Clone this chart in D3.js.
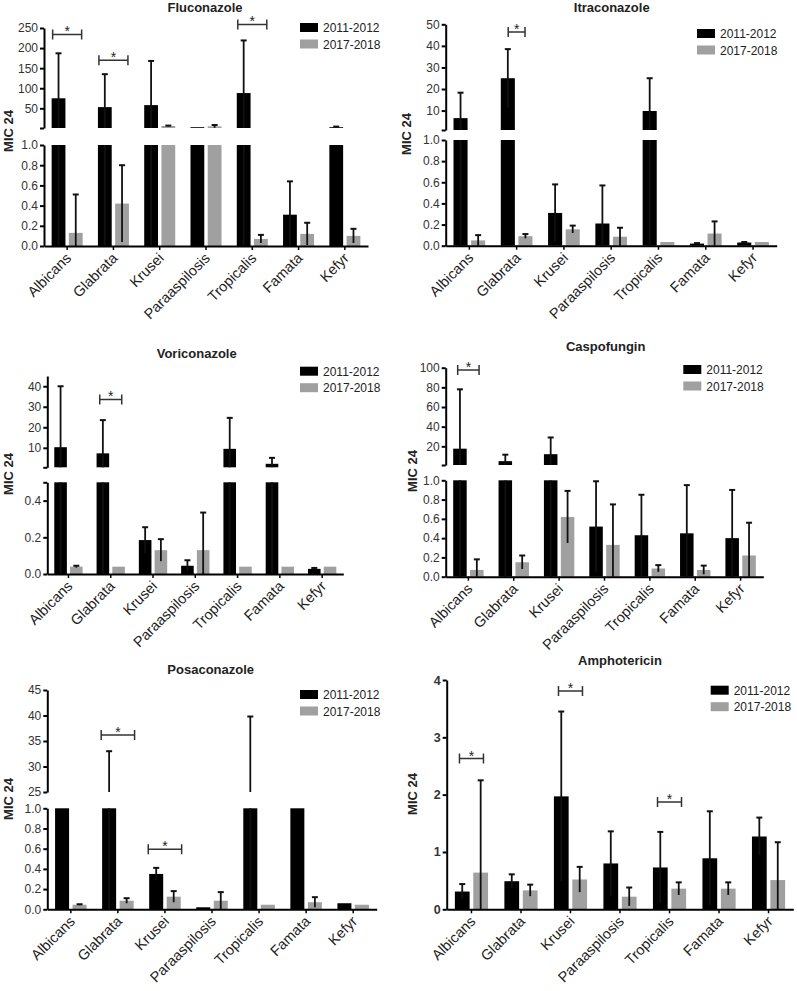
<!DOCTYPE html>
<html><head><meta charset="utf-8">
<script src="https://cdn.jsdelivr.net/npm/d3@7"></script>
<style>
body{margin:0;background:#fff;}
text{font-family:"Liberation Sans",Arial,Helvetica,sans-serif;}
</style>
</head><body>
<svg id="chart" width="797" height="991"></svg>
<script>
// ---------- DATA ----------
const categories = ["Albicans","Glabrata","Krusei","Paraaspilosis","Tropicalis","Famata","Kefyr"];
const seriesNames = ["2011-2012","2017-2018"];
const seriesColors = ["#000000","#a0a0a0"];
const yAxisTitle = "MIC 24";

// Fluconazole (mean, mean+SD)
const flucoMean2011  = [75, 53, 58, 3, 88, 0.31, 3];
const flucoUpper2011 = [187, 135, 168, 3, 219, 0.64, 4.5];
const flucoMean2017  = [0.13, 0.42, 6, 5, 0.07, 0.12, 0.10];
const flucoUpper2017 = [0.51, 0.80, 7, 8.5, 0.11, 0.23, 0.17];
const flucoSig = [["Albicans", 234], ["Glabrata", 170], ["Tropicalis", 259]];
const flucoTopTicks = [1, 50, 100, 150, 200, 250];
const flucoTopLabels = ["", "50", "100", "150", "200", "250"];
const flucoBotTicks = [0, 0.2, 0.4, 0.6, 0.8, 1.0];
const flucoBotLabels = ["0.0", "0.2", "0.4", "0.6", "0.8", "1.0"];

// Itraconazole
const itraMean2011  = [6.5, 25, 0.31, 0.21, 9.8, 0.02, 0.03];
const itraUpper2011 = [18.3, 38.5, 0.58, 0.57, 25, 0.025, 0.035];
const itraMean2017  = [0.05, 0.09, 0.155, 0.085, 0.035, 0.115, 0.035];
const itraUpper2017 = [0.10, 0.11, 0.19, 0.17, 0.035, 0.23, 0.035];
const itraSig = [["Glabrata", 46.4]];
const itraTopTicks = [1, 10, 20, 30, 40, 50];
const itraTopLabels = ["", "10", "20", "30", "40", "50"];
const itraBotTicks = [0, 0.2, 0.4, 0.6, 0.8, 1.0];
const itraBotLabels = ["0.0", "0.2", "0.4", "0.6", "0.8", "1.0"];

// Voriconazole
const voriMean2011  = [10.3, 7.3, 0.185, 0.045, 9.5, 2.2, 0.028];
const voriUpper2011 = [40, 23.5, 0.255, 0.075, 24.6, 5.1, 0.033];
const voriMean2017  = [0.04, 0.04, 0.13, 0.13, 0.04, 0.04, 0.04];
const voriUpper2017 = [0.045, 0.04, 0.19, 0.335, 0.04, 0.04, 0.04];
const voriSig = [["Glabrata", 33.6]];
const voriTopTicks = [0.5, 10, 20, 30, 40];
const voriTopLabels = ["", "10", "20", "30", "40"];
const voriBotTicks = [0, 0.2, 0.4, 0.5];
const voriBotLabels = ["0.0", "0.2", "0.4", ""];

// Caspofungin
const caspoMean2011  = [17.6, 4.9, 12, 0.52, 0.43, 0.45, 0.40];
const caspoUpper2011 = [78, 11.5, 29, 0.99, 0.85, 0.95, 0.90];
const caspoMean2017  = [0.07, 0.15, 0.62, 0.33, 0.085, 0.07, 0.22];
const caspoUpper2017 = [0.18, 0.22, 0.89, 0.75, 0.12, 0.115, 0.56];
const caspoSig = [["Albicans", 97.6]];
const caspoTopTicks = [1, 20, 40, 60, 80, 100];
const caspoTopLabels = ["", "20", "40", "60", "80", "100"];
const caspoBotTicks = [0, 0.2, 0.4, 0.6, 0.8, 1.0];
const caspoBotLabels = ["0.0", "0.2", "0.4", "0.6", "0.8", "1.0"];

// Posaconazole
const posaMean2011  = [5, 8, 0.35, 0.02, 10, 5, 0.06];
const posaUpper2011 = [5, 33, 0.41, 0.02, 39.8, 5, 0.06];
const posaMean2017  = [0.045, 0.085, 0.125, 0.085, 0.045, 0.07, 0.045];
const posaUpper2017 = [0.05, 0.11, 0.18, 0.17, 0.045, 0.12, 0.045];
const posaSig = [["Glabrata", 36.2], ["Krusei", 0.594]];
const posaTopTicks = [25, 30, 35, 40, 45];
const posaTopLabels = ["25", "30", "35", "40", "45"];
const posaBotTicks = [0, 0.2, 0.4, 0.6, 0.8, 1.0];
const posaBotLabels = ["0.0", "0.2", "0.4", "0.6", "0.8", "1.0"];

// Amphotericin
const amphoMean2011  = [0.31, 0.49, 1.97, 0.80, 0.73, 0.89, 1.27];
const amphoUpper2011 = [0.44, 0.61, 3.45, 1.36, 1.35, 1.71, 1.60];
const amphoMean2017  = [0.64, 0.33, 0.52, 0.22, 0.36, 0.36, 0.51];
const amphoUpper2017 = [2.25, 0.43, 0.74, 0.38, 0.47, 0.47, 1.17];
const amphoSig = [["Albicans", 2.63], ["Krusei", 3.81], ["Tropicalis", 1.87]];
const amphoTicks = [0, 1, 2, 3, 4];
const amphoLabels = ["0", "1", "2", "3", "4"];

// ---------- LAYOUT ----------
const panels = [
  {title:"Fluconazole", m1:flucoMean2011, u1:flucoUpper2011, m2:flucoMean2017, u2:flucoUpper2017, sig:flucoSig,
   xL:44, xR:368, botDomain:[0,1], botRange:[246,145], botTicks:flucoBotTicks, botLabels:flucoBotLabels,
   topDomain:[1,250], topRange:[128,28], topTicks:flucoTopTicks, topLabels:flucoTopLabels,
   titleXY:[205,12], legendXY:[300,23], yLabelXY:[13,131], sigHalf:14.5},
  {title:"Itraconazole", m1:itraMean2011, u1:itraUpper2011, m2:itraMean2017, u2:itraUpper2017, sig:itraSig,
   xL:445.7, xR:776.7, botDomain:[0,1], botRange:[245.7,140], botTicks:itraBotTicks, botLabels:itraBotLabels,
   topDomain:[1,50], topRange:[130,24.3], topTicks:itraTopTicks, topLabels:itraTopLabels,
   titleXY:[611.7,12], legendXY:[697,29], yLabelXY:[411,134], sigHalf:8.4},
  {title:"Voriconazole", m1:voriMean2011, u1:voriUpper2011, m2:voriMean2017, u2:voriUpper2017, sig:voriSig,
   xL:47.3, xR:343.3, botDomain:[0,0.5], botRange:[574,482.3], botTicks:voriBotTicks, botLabels:voriBotLabels,
   topDomain:[0.5,45], topRange:[467.3,376], topTicks:voriTopTicks, topLabels:voriTopLabels,
   titleXY:[196.7,358], legendXY:[300,366.7], yLabelXY:[13,474], sigHalf:11},
  {title:"Caspofungin", m1:caspoMean2011, u1:caspoUpper2011, m2:caspoMean2017, u2:caspoUpper2017, sig:caspoSig,
   xL:445.7, xR:763.3, botDomain:[0,1], botRange:[576.7,480.3], botTicks:caspoBotTicks, botLabels:caspoBotLabels,
   topDomain:[1,100], topRange:[465,367.7], topTicks:caspoTopTicks, topLabels:caspoTopLabels,
   titleXY:[605.7,351], legendXY:[683.3,365], yLabelXY:[417,471], sigHalf:10.7},
  {title:"Posaconazole", m1:posaMean2011, u1:posaUpper2011, m2:posaMean2017, u2:posaUpper2017, sig:posaSig,
   xL:47.3, xR:376.7, botDomain:[0,1], botRange:[909.3,808.3], botTicks:posaBotTicks, botLabels:posaBotLabels,
   topDomain:[25,45], topRange:[792,690], topTicks:posaTopTicks, topLabels:posaTopLabels,
   titleXY:[210.7,674], legendXY:[300,690], yLabelXY:[13,799], sigHalf:16.7},
  {title:"Amphotericin", m1:amphoMean2011, u1:amphoUpper2011, m2:amphoMean2017, u2:amphoUpper2017, sig:amphoSig,
   xL:446.7, xR:793.3, botDomain:[0,4], botRange:[909.3,680], botTicks:amphoTicks, botLabels:amphoLabels,
   topDomain:null, titleXY:[620,665], legendXY:[710.7,685.7], yLabelXY:[417,794], sigHalf:12, boldTicks:true}
];

const svg = d3.select("#chart");

function drawPanel(p) {
  const g = svg.append("g");
  const x0 = d3.scaleBand().domain(categories).range([p.xL, p.xR]).paddingInner(0.33).paddingOuter(0.165);
  const x1 = d3.scaleBand().domain(seriesNames).range([0, x0.bandwidth()]).paddingInner(0.2);
  const series = [
    {name:seriesNames[0], mean:p.m1, upper:p.u1, color:seriesColors[0]},
    {name:seriesNames[1], mean:p.m2, upper:p.u2, color:seriesColors[1]}
  ];
  const segs = [{scale:d3.scaleLinear().domain(p.botDomain).range(p.botRange), ticks:p.botTicks, labels:p.botLabels}];
  if (p.topDomain) segs.push({scale:d3.scaleLinear().domain(p.topDomain).range(p.topRange), ticks:p.topTicks, labels:p.topLabels});

  segs.forEach(seg => {
    const y = seg.scale;
    const [d0, d1] = y.domain();
    series.forEach(s => {
      categories.forEach((c, i) => {
        const v = s.mean[i];
        if (v <= d0) return;
        const top = Math.min(v, d1);
        g.append("rect")
          .attr("x", x0(c) + x1(s.name))
          .attr("width", x1.bandwidth())
          .attr("y", y(top))
          .attr("height", y(d0) - y(top))
          .attr("fill", s.color);
      });
    });
    series.forEach(s => {
      categories.forEach((c, i) => {
        const v = s.mean[i], up = s.upper[i];
        if (up <= v) return;
        const lo = Math.max(0, 2 * v - up);
        const a = Math.max(lo, d0), b = Math.min(up, d1);
        if (b <= a) return;
        const cx = x0(c) + x1(s.name) + x1.bandwidth() / 2;
        g.append("line").attr("x1", cx).attr("x2", cx).attr("y1", y(a)).attr("y2", y(b))
          .attr("stroke", "#111").attr("stroke-width", 1.8);
        if (up <= d1 && up >= d0) {
          g.append("line").attr("x1", cx - 3).attr("x2", cx + 3).attr("y1", y(up)).attr("y2", y(up))
            .attr("stroke", "#111").attr("stroke-width", 2);
        }
      });
    });
    const ax = g.append("g").attr("transform", `translate(${p.xL},0)`)
      .call(d3.axisLeft(y).tickValues(seg.ticks).tickFormat((d, i) => seg.labels[i]).tickSize(4).tickSizeOuter(0).tickPadding(2));
    ax.select(".domain").attr("stroke", "#000").attr("stroke-width", 2);
    ax.selectAll(".tick line").attr("stroke", "#000").attr("stroke-width", 2);
    ax.selectAll(".tick text").attr("fill", "#333")
      .style("font-size", p.boldTicks ? "12.5px" : "12px")
      .style("font-weight", p.boldTicks ? "bold" : "normal");
  });

  const xa = g.append("g").attr("transform", `translate(0,${p.botRange[0]})`)
    .call(d3.axisBottom(x0).tickSize(4).tickSizeOuter(0));
  xa.select(".domain").attr("stroke", "#000").attr("stroke-width", 2);
  xa.selectAll(".tick line").attr("stroke", "#000").attr("stroke-width", 1.5);
  xa.selectAll(".tick text")
    .attr("fill", "#222").style("font-size", "14.5px")
    .attr("text-anchor", "end").attr("dy", null).attr("y", 0)
    .attr("transform", "translate(5,13) rotate(-45)");

  p.sig.forEach(([cat, val]) => {
    const seg = (segs.length > 1 && val > p.botDomain[1]) ? segs[1] : segs[0];
    const yy = seg.scale(val);
    const cx = x0(cat) + x0.bandwidth() / 2;
    const l = cx - p.sigHalf, r = cx + p.sigHalf;
    g.append("path").attr("d", `M${l},${yy - 5}V${yy + 5}M${l},${yy}H${r}M${r},${yy - 5}V${yy + 5}`)
      .attr("stroke", "#333").attr("stroke-width", 1.5).attr("fill", "none");
    g.append("text").attr("x", cx).attr("y", yy + 2).attr("text-anchor", "middle")
      .style("font-size", "14px").attr("fill", "#222").text("*");
  });

  g.append("text").attr("x", p.titleXY[0]).attr("y", p.titleXY[1]).attr("text-anchor", "middle")
    .style("font-size", "13px").style("font-weight", "bold").attr("fill", "#222").text(p.title);

  g.append("text").attr("transform", `translate(${p.yLabelXY[0]},${p.yLabelXY[1]}) rotate(-90)`)
    .attr("text-anchor", "middle").style("font-size", "13px").style("font-weight", "bold").attr("fill", "#222")
    .text(yAxisTitle);

  series.forEach((s, i) => {
    const lx = p.legendXY[0], ly = p.legendXY[1] + i * 16.5;
    g.append("rect").attr("x", lx).attr("y", ly).attr("width", 18).attr("height", 9).attr("fill", s.color);
    g.append("text").attr("x", lx + 23).attr("y", ly + 9).style("font-size", "12px").attr("fill", "#222").text(s.name);
  });
}

panels.forEach(drawPanel);
</script>
</body></html>
